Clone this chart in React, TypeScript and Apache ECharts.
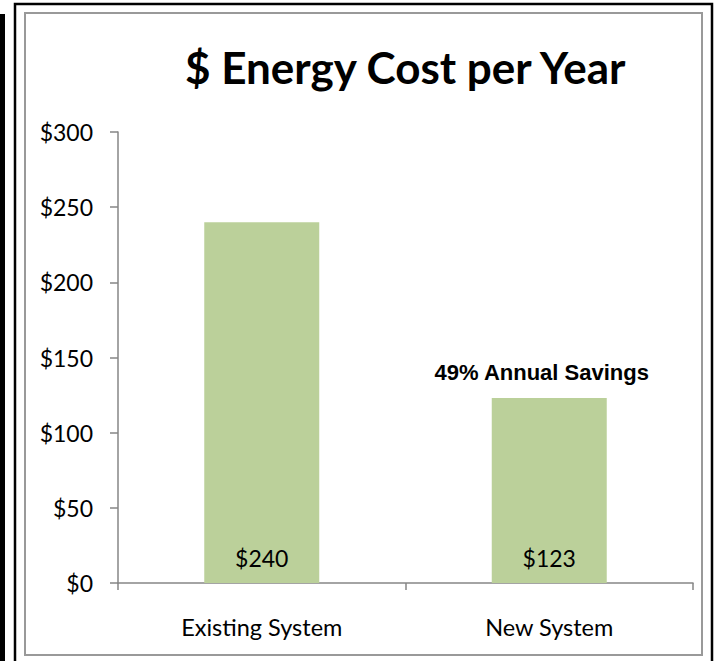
import React, { useEffect, useRef } from "react";
import * as echarts from "echarts";

const TITLE = "$ Energy Cost per Year";
const categories = ["Existing System", "New System"];
const costs = [240, 123];
const annotationText = "49% Annual Savings";
const annotationIndex = 1;
const yMin = 0;
const yMax = 300;
const yInterval = 50;

const W = 716;
const H = 661;

export default function App() {
  const ref = useRef<HTMLDivElement>(null);
  useEffect(() => {
    document.body.style.margin = "0";
    if (!ref.current) return;
    const chart = echarts.init(ref.current, null, { renderer: "svg" });
    const axisColor = "#868686";
    const font = "Lato, 'Noto Sans', sans-serif";
    chart.setOption({
      animation: false,
      backgroundColor: "#ffffff",
      title: {
        text: TITLE,
        left: 180,
        top: 40,
        textStyle: {
          fontFamily: font,
          fontWeight: "bold",
          fontSize: 44,
          color: "#000000",
        },
      },
      grid: { left: 118, right: 23, top: 132, bottom: 78, containLabel: false },
      xAxis: {
        type: "category",
        data: categories,
        axisLine: { show: true, lineStyle: { color: axisColor, width: 1.5 } },
        axisTick: { show: true, length: 7, lineStyle: { color: axisColor, width: 1.5 } },
        axisLabel: { fontFamily: font, fontSize: 23.5, color: "#000000", margin: 32 },
      },
      yAxis: {
        type: "value",
        min: yMin,
        max: yMax,
        interval: yInterval,
        axisLine: { show: true, lineStyle: { color: axisColor, width: 1.5 } },
        axisTick: { show: true, length: 8, lineStyle: { color: axisColor, width: 1.5 } },
        splitLine: { show: false },
        axisLabel: {
          fontFamily: font,
          fontSize: 23,
          color: "#000000",
          margin: 25,
          formatter: (v: number) => "$" + v,
        },
      },
      series: [
        {
          type: "bar",
          data: costs,
          barWidth: 115,
          itemStyle: { color: "#bbd09a" },
          label: {
            show: true,
            position: "insideBottom",
            distance: 14,
            formatter: (p: any) => "$" + p.value,
            fontFamily: font,
            fontSize: 23,
            color: "#000000",
          },
          silent: true,
        },
        {
          type: "bar",
          barGap: "-100%",
          barWidth: 115,
          data: costs.map((v, i) => ({
            value: v,
            label: { show: i === annotationIndex },
          })),
          itemStyle: { color: "rgba(0,0,0,0)" },
          label: {
            position: "top",
            distance: 15,
            offset: [-7.5, 0],
            formatter: annotationText,
            fontFamily: "'Liberation Sans', Arial, sans-serif",
            fontWeight: "bold",
            fontSize: 22,
            color: "#000000",
          },
          silent: true,
          z: 3,
        },
      ],
      graphic: [
        {
          type: "rect",
          shape: { x: 0, y: 14, width: 5, height: H - 14 },
          style: { fill: "#000000" },
          silent: true,
        },
        {
          type: "rect",
          shape: { x: 15, y: 4, width: 697, height: H + 10 },
          style: { fill: "none", stroke: "#000000", lineWidth: 2.5 },
          silent: true,
        },
        {
          type: "rect",
          shape: { x: 25, y: 13, width: 677, height: 642 },
          style: { fill: "none", stroke: "#999999", lineWidth: 2 },
          silent: true,
        },
      ],
    });
    return () => chart.dispose();
  }, []);
  return <div ref={ref} style={{ width: W, height: H }} />;
}
